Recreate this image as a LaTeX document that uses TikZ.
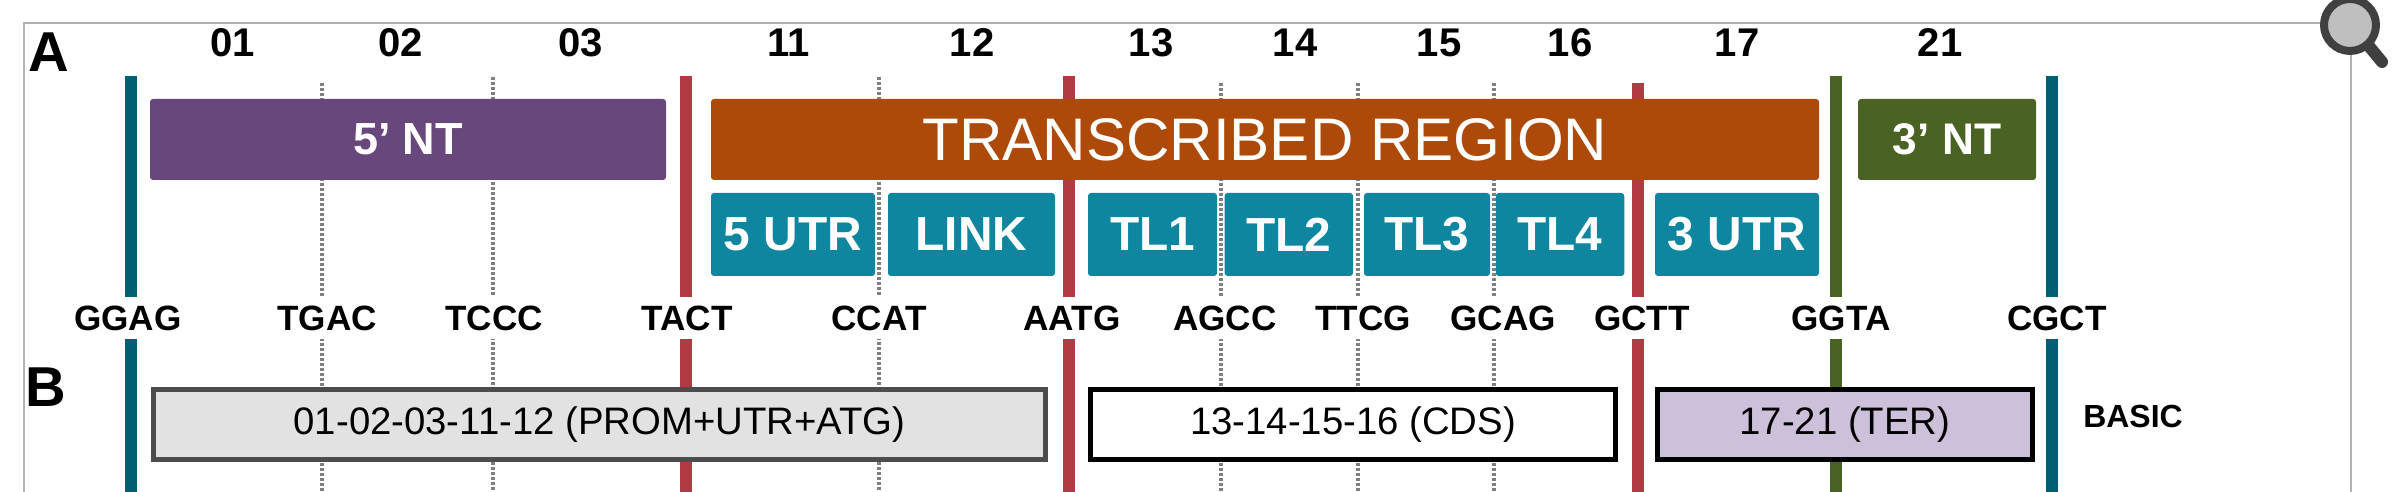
\documentclass[tikz,border=0pt]{standalone}
\usepackage{fontspec}
\setmainfont{Liberation Sans}

\definecolor{exonteal}{HTML}{005F73}
\definecolor{sitered}{HTML}{B23A42}
\definecolor{sitegreen}{HTML}{4A6322}
\definecolor{ntpurple}{HTML}{68477C}
\definecolor{trorange}{HTML}{AD4A0A}
\definecolor{partteal}{HTML}{0E86A0}
\definecolor{promgray}{HTML}{E2E2E2}
\definecolor{terlilac}{HTML}{CCC0DA}

\tikzset{
    band/.style={rectangle, rounded corners=0.03cm, minimum height=0.81cm, inner sep=0pt, text=white},
    part/.style={rectangle, rounded corners=0.03cm, minimum height=0.83cm, inner sep=0pt, text=white, fill=partteal, font=\fontsize{13.6}{14}\selectfont\bfseries},
    unit/.style={rectangle, line width=0.05cm, minimum height=0.70cm, inner sep=0pt, font=\fontsize{10.9}{11}\selectfont},
    num/.style={inner sep=0pt, font=\fontsize{11.4}{12}\selectfont\bfseries},
    site/.style={fill=white, inner xsep=1pt, inner ysep=0pt, minimum height=0.42cm, font=\fontsize{10}{10}\selectfont\bfseries},
    tag/.style={inner sep=0pt, font=\fontsize{16}{16}\selectfont\bfseries},
    dotline/.style={line width=0.035cm, black!50, dash pattern=on 0.03cm off 0.02cm},
    bigline/.style={line width=0.12cm}
}

\begin{document}
\begin{tikzpicture}
    \useasboundingbox (0,0) rectangle (23.98,4.92);

    % Frame
    \draw[line width=0.02cm, black!30] (0.245,0) |- (23.51,4.69) -- (23.51,0);

    % Sites
    \draw[dotline] (3.22,4.09) -- (3.22,0);
    \draw[dotline] (4.93,4.15) -- (4.93,0);
    \draw[dotline] (8.79,4.15) -- (8.79,0);
    \draw[dotline] (12.21,4.09) -- (12.21,0);
    \draw[dotline] (13.58,4.09) -- (13.58,0);
    \draw[dotline] (14.94,4.09) -- (14.94,0);

    \draw[bigline, exonteal] (1.31,4.16) -- (1.31,0);
    \draw[bigline, sitered] (6.86,4.16) -- (6.86,0);
    \draw[bigline, sitered] (10.69,4.16) -- (10.69,0);
    \draw[bigline, sitered] (16.38,4.09) -- (16.38,0);
    \draw[bigline, sitegreen] (18.36,4.16) -- (18.36,0);
    \draw[bigline, exonteal] (20.515,4.16) -- (20.515,0);

    \node[site] (ggag) at (1.28,1.74) {GGAG};
    \node[site] (tgac) at (3.27,1.74) {TGAC};
    \node[site] (tccc) at (4.94,1.74) {TCCC};
    \node[site] (tact) at (6.87,1.74) {TACT};
    \node[site] (ccat) at (8.79,1.74) {CCAT};
    \node[site] (aatg) at (10.72,1.74) {AATG};
    \node[site] (agcc) at (12.25,1.74) {AGCC};
    \node[site] (ttcg) at (13.63,1.74) {TTCG};
    \node[site] (gcag) at (15.03,1.74) {GCAG};
    \node[site] (gctt) at (16.42,1.74) {GCTT};
    \node[site] (ggta) at (18.41,1.74) {GGTA};
    \node[site] (cgct) at (20.57,1.74) {CGCT};

    % Regions
    \node[band, fill=ntpurple, minimum width=5.16cm, font=\fontsize{12.8}{13}\selectfont\bfseries] (ntfive) at (4.08,3.525) {5’ NT};
    \node[band, fill=trorange, minimum width=11.08cm, font=\fontsize{17.1}{18}\selectfont] (region) at (12.65,3.525) {TRANSCRIBED REGION};
    \node[band, fill=sitegreen, minimum width=1.78cm, font=\fontsize{12.6}{13}\selectfont\bfseries] (ntthree) at (19.47,3.525) {3’ NT};

    % Parts
    \node[part, minimum width=1.64cm] (utrfive) at (7.93,2.575) {5 UTR};
    \node[part, minimum width=1.67cm] (link) at (9.715,2.575) {LINK};
    \node[part, minimum width=1.29cm] (tla) at (11.525,2.575) {TL1};
    \node[part, minimum width=1.285cm] (tlb) at (12.888,2.575) {TL2};
    \node[part, minimum width=1.26cm] (tlc) at (14.27,2.575) {TL3};
    \node[part, minimum width=1.285cm] (tld) at (15.60,2.575) {TL4};
    \node[part, minimum width=1.64cm] (utrthree) at (17.37,2.575) {3 UTR};

    % Basic units
    \node[unit, draw=black!70, fill=promgray, minimum width=8.92cm] (prom) at (5.995,0.675) {01-02-03-11-12 (PROM+UTR+ATG)};
    \node[unit, draw=black, fill=white, minimum width=5.25cm] (cds) at (13.53,0.675) {13-14-15-16 (CDS)};
    \node[unit, draw=black, fill=terlilac, minimum width=3.75cm] (ter) at (18.45,0.675) {17-21 (TER)};
    \node[inner sep=0pt, font=\fontsize{9.1}{10}\selectfont\bfseries] (basic) at (21.33,0.75) {BASIC};

    % Numbers
    \node[num] (p01) at (2.33,4.49) {01};
    \node[num] (p02) at (4.01,4.49) {02};
    \node[num] (p03) at (5.81,4.49) {03};
    \node[num] (p11) at (7.89,4.49) {11};
    \node[num] (p12) at (9.72,4.49) {12};
    \node[num] (p13) at (11.51,4.49) {13};
    \node[num] (p14) at (12.95,4.49) {14};
    \node[num] (p15) at (14.39,4.49) {15};
    \node[num] (p16) at (15.70,4.49) {16};
    \node[num] (p17) at (17.37,4.49) {17};
    \node[num] (p21) at (19.40,4.49) {21};

    % Panels
    \node[tag] (panela) at (0.49,4.40) {A};
    \node[tag] (panelb) at (0.46,1.05) {B};

    % Magnifier
    \draw[line width=0.12cm, line cap=round, black!75] (23.68,4.47) -- (23.82,4.30);
    \filldraw[line width=0.08cm, draw=black!75, fill=black!25] (23.50,4.67) circle (0.26);
\end{tikzpicture}
\end{document}
